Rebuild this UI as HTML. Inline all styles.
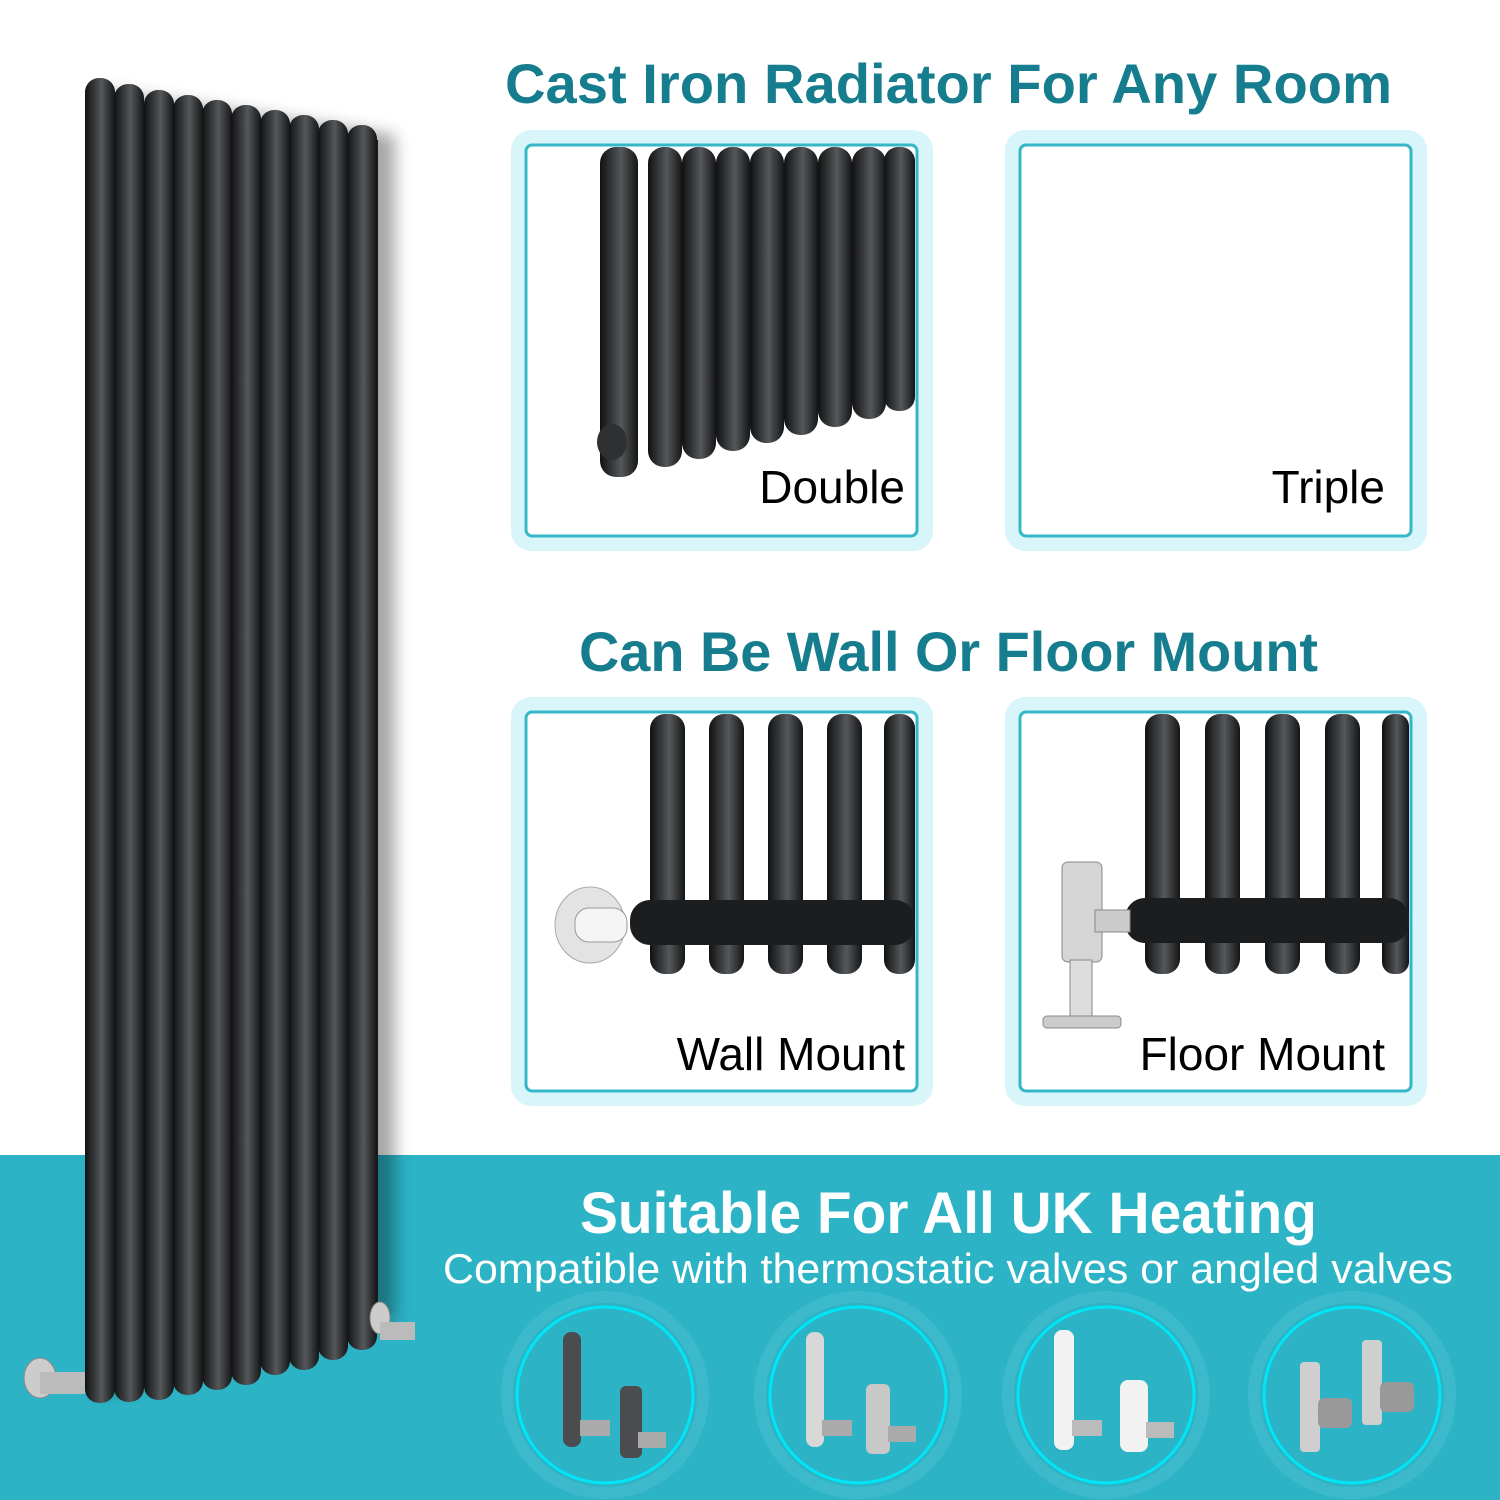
<!DOCTYPE html>
<html><head><style>
body{margin:0;background:#fff}
svg{display:block}
.t{font-family:"Liberation Sans",sans-serif}
</style></head><body>
<svg width="1500" height="1500" viewBox="0 0 1500 1500" xmlns="http://www.w3.org/2000/svg">
<defs>
<linearGradient id="tube" x1="0" x2="1" y1="0" y2="0">
<stop offset="0" stop-color="#111"/><stop offset="0.35" stop-color="#3a3d40"/><stop offset="0.55" stop-color="#55585b"/><stop offset="1" stop-color="#141516"/>
</linearGradient>
<filter id="sh" x="-20%" y="-5%" width="140%" height="110%"><feGaussianBlur stdDeviation="8"/></filter>
</defs>
<rect width="1500" height="1500" fill="#fff"/>
<rect x="0" y="1155" width="1500" height="345" fill="#2cb3c6"/>
<polygon points="100,90 395,135 395,1320 100,1395" fill="#000" opacity="0.35" filter="url(#sh)"/>
<polygon points="88,95 378,140 378,1330 88,1395" fill="#1a1b1c"/>
<g fill="url(#tube)">
<rect x="85" y="78" width="30" height="1325" rx="14"/>
<rect x="114" y="84" width="30" height="1318" rx="14"/>
<rect x="144" y="90" width="30" height="1310" rx="14"/>
<rect x="173" y="95" width="30" height="1300" rx="14"/>
<rect x="202" y="100" width="30" height="1290" rx="14"/>
<rect x="231" y="105" width="30" height="1280" rx="14"/>
<rect x="260" y="110" width="30" height="1265" rx="14"/>
<rect x="289" y="115" width="30" height="1255" rx="14"/>
<rect x="318" y="120" width="30" height="1240" rx="14"/>
<rect x="347" y="125" width="30" height="1225" rx="14"/>
</g>
<ellipse cx="40" cy="1378" rx="16" ry="20" fill="#ccc" stroke="#888"/>
<rect x="40" y="1372" width="45" height="22" fill="#bbb"/>
<ellipse cx="380" cy="1318" rx="10" ry="16" fill="#ccc" stroke="#888"/>
<rect x="380" y="1322" width="35" height="18" fill="#bbb"/>

<text class="t" x="505" y="103" textLength="887" lengthAdjust="spacingAndGlyphs" font-size="56" font-weight="bold" fill="#157d8d">Cast Iron Radiator For Any Room</text>
<text class="t" x="579" y="671" textLength="739" lengthAdjust="spacingAndGlyphs" font-size="56" font-weight="bold" fill="#157d8d">Can Be Wall Or Floor Mount</text>

<rect x="511" y="130" width="422" height="421" rx="20" fill="#d8f6fa"/>
<rect x="526" y="145" width="391" height="391" rx="6" fill="#fff" stroke="#36b7c8" stroke-width="3"/>
<rect x="1005" y="130" width="422" height="421" rx="20" fill="#d8f6fa"/>
<rect x="1020" y="145" width="391" height="391" rx="6" fill="#fff" stroke="#36b7c8" stroke-width="3"/>
<rect x="511" y="697" width="422" height="409" rx="20" fill="#d8f6fa"/>
<rect x="526" y="712" width="391" height="379" rx="6" fill="#fff" stroke="#36b7c8" stroke-width="3"/>
<rect x="1005" y="697" width="422" height="409" rx="20" fill="#d8f6fa"/>
<rect x="1020" y="712" width="391" height="379" rx="6" fill="#fff" stroke="#36b7c8" stroke-width="3"/>

<g fill="url(#tube)">
<rect x="600" y="147" width="38" height="330" rx="16"/>
<rect x="648" y="147" width="34" height="320" rx="16"/>
<rect x="682" y="147" width="34" height="312" rx="16"/>
<rect x="716" y="147" width="34" height="304" rx="16"/>
<rect x="750" y="147" width="34" height="296" rx="16"/>
<rect x="784" y="147" width="34" height="288" rx="16"/>
<rect x="818" y="147" width="34" height="280" rx="16"/>
<rect x="852" y="147" width="34" height="272" rx="16"/>
<rect x="884" y="147" width="31" height="264" rx="14"/>
</g>
<ellipse cx="612" cy="442" rx="15" ry="18" fill="#2e3032"/>
<text class="t" x="905" y="503" text-anchor="end" font-size="46" fill="#000">Double</text>
<text class="t" x="1385" y="503" text-anchor="end" font-size="46" fill="#000">Triple</text>

<g fill="url(#tube)">
<rect x="650" y="714" width="35" height="260" rx="15"/>
<rect x="709" y="714" width="35" height="260" rx="15"/>
<rect x="768" y="714" width="35" height="260" rx="15"/>
<rect x="827" y="714" width="35" height="260" rx="15"/>
<rect x="884" y="714" width="31" height="260" rx="14"/>
</g>
<rect x="630" y="900" width="285" height="45" rx="20" fill="#1c1d1e"/>
<ellipse cx="590" cy="925" rx="35" ry="38" fill="#e3e3e3" stroke="#aaa"/>
<rect x="575" y="908" width="52" height="34" rx="14" fill="#f5f5f5" stroke="#999"/>
<text class="t" x="905" y="1070" text-anchor="end" font-size="46" fill="#000">Wall Mount</text>

<g fill="url(#tube)">
<rect x="1145" y="714" width="35" height="260" rx="15"/>
<rect x="1205" y="714" width="35" height="260" rx="15"/>
<rect x="1265" y="714" width="35" height="260" rx="15"/>
<rect x="1325" y="714" width="35" height="260" rx="15"/>
<rect x="1382" y="714" width="27" height="260" rx="12"/>
</g>
<rect x="1125" y="898" width="284" height="45" rx="20" fill="#1c1d1e"/>
<rect x="1062" y="862" width="40" height="100" rx="6" fill="#d5d5d5" stroke="#888"/>
<rect x="1095" y="910" width="35" height="22" fill="#ccc" stroke="#888"/>
<rect x="1070" y="960" width="22" height="58" fill="#ddd" stroke="#888"/>
<rect x="1043" y="1016" width="78" height="12" rx="4" fill="#ccc" stroke="#888"/>
<text class="t" x="1385" y="1070" text-anchor="end" font-size="46" fill="#000">Floor Mount</text>

<text class="t" x="580" y="1233" textLength="737" lengthAdjust="spacingAndGlyphs" font-size="58" font-weight="bold" fill="#fff">Suitable For All UK Heating</text>
<text class="t" x="443" y="1283" textLength="1010" lengthAdjust="spacingAndGlyphs" font-size="42" fill="#fff">Compatible with thermostatic valves or angled valves</text>

<g fill="none">
<circle cx="605" cy="1395" r="98" stroke="#4cc2d2" stroke-width="12" opacity="0.5"/>
<circle cx="605" cy="1395" r="88" stroke="#00e6f6" stroke-width="3"/>
<circle cx="858" cy="1395" r="98" stroke="#4cc2d2" stroke-width="12" opacity="0.5"/>
<circle cx="858" cy="1395" r="88" stroke="#00e6f6" stroke-width="3"/>
<circle cx="1106" cy="1395" r="98" stroke="#4cc2d2" stroke-width="12" opacity="0.5"/>
<circle cx="1106" cy="1395" r="88" stroke="#00e6f6" stroke-width="3"/>
<circle cx="1352" cy="1395" r="98" stroke="#4cc2d2" stroke-width="12" opacity="0.5"/>
<circle cx="1352" cy="1395" r="88" stroke="#00e6f6" stroke-width="3"/>
</g>
<rect x="563" y="1332" width="18" height="115" rx="8" fill="#4a4c50"/>
<rect x="620" y="1386" width="22" height="72" rx="6" fill="#4a4c50"/>
<rect x="580" y="1420" width="30" height="16" fill="#aaa"/>
<rect x="638" y="1432" width="28" height="16" fill="#aaa"/>
<rect x="806" y="1332" width="18" height="115" rx="8" fill="#d8d8d8"/>
<rect x="866" y="1384" width="24" height="70" rx="6" fill="#c8c8c8"/>
<rect x="822" y="1420" width="30" height="16" fill="#aaa"/>
<rect x="888" y="1426" width="28" height="16" fill="#aaa"/>
<rect x="1054" y="1330" width="20" height="120" rx="8" fill="#f2f2f2"/>
<rect x="1120" y="1380" width="28" height="72" rx="8" fill="#f2f2f2"/>
<rect x="1072" y="1420" width="30" height="16" fill="#bbb"/>
<rect x="1146" y="1422" width="28" height="16" fill="#bbb"/>
<rect x="1300" y="1362" width="20" height="90" rx="4" fill="#cfcfcf"/>
<rect x="1362" y="1340" width="20" height="85" rx="4" fill="#cfcfcf"/>
<rect x="1318" y="1398" width="34" height="30" rx="6" fill="#999"/>
<rect x="1380" y="1382" width="34" height="30" rx="6" fill="#999"/>
</svg>
</body></html>
